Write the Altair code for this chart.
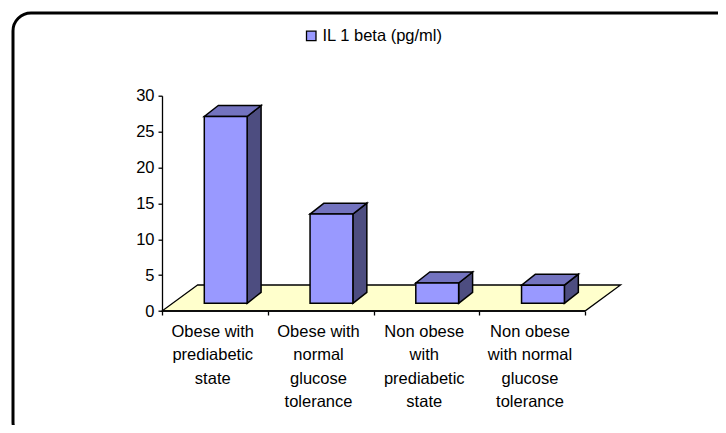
import altair as alt
import pandas as pd

categories = ["Obese with\nprediabetic\nstate", "Obese with\nnormal\nglucose\ntolerance",
              "Non obese\nwith\nprediabetic\nstate", "Non obese\nwith normal\nglucose\ntolerance"]
values = [27.1, 13.5, 3.9, 3.6]
series = "IL 1 beta (pg/ml)"
y_ticks = [0, 5, 10, 15, 20, 25, 30]
x_ticks = [0, 1, 2, 3, 4]

W, H = 459, 215.3
XMAX = W / 105.75
FLOOR_D_X, FLOOR_D_Y = 0.336, 3.62
BAR_L, BAR_W = 0.4, 0.405
BAR_BASE = 1.07
DX, DY = 0.132, 1.53

FONT = "Liberation Sans"
FS = 16.5

x_scale = alt.Scale(domain=[0, XMAX], nice=False, zero=False)
y_scale = alt.Scale(domain=[0, 30], nice=False, zero=False)
X = alt.X("x:Q", scale=x_scale, title=None,
          axis=alt.Axis(values=x_ticks, tickCount=5, labels=False, domain=False, grid=False, tickSize=4,
                        tickColor="black", tickWidth=1.3))
Y = alt.Y("y:Q", scale=y_scale, title=None,
          axis=alt.Axis(values=y_ticks, tickCount=7, labelOverlap=False, grid=False, tickSize=4,
                        tickColor="black", tickWidth=1.3,
                        domainColor="black", domainWidth=1.3, labelColor="black", labelFont=FONT,
                        labelFontSize=FS, labelPadding=4))

# floor (horizontal-edged parallelogram)
floor_df = pd.DataFrame({"y": [0, FLOOR_D_Y], "x": [0, FLOOR_D_X], "x2": [4, 4 + FLOOR_D_X]})
floor = alt.Chart(floor_df).mark_area(orient="horizontal", fill="#FFFFCC", stroke="black",
                                      strokeWidth=1.3).encode(
    y=Y, x=X, x2="x2:Q")

front_rows, top_rows, side_rows = [], [], []
for i, v in enumerate(values):
    l = i + BAR_L
    r = l + BAR_W
    front_rows.append({"x": l, "x2": r, "y": BAR_BASE, "y2": v, "series": series})
    top_rows += [{"b": i, "y": v, "x": l, "x2": r},
                 {"b": i, "y": v + DY, "x": l + DX, "x2": r + DX}]
    side_rows += [{"b": i, "x": r, "y": BAR_BASE, "y2": v},
                  {"b": i, "x": r + DX, "y": BAR_BASE + DY, "y2": v + DY}]

front = alt.Chart(pd.DataFrame(front_rows)).mark_rect(stroke="black", strokeWidth=1.5).encode(
    x=X, x2="x2:Q", y=Y, y2="y2:Q",
    color=alt.Color("series:N", scale=alt.Scale(domain=[series], range=["#9999FF"]),
                    legend=alt.Legend(title=None, orient="none", legendX=141, legendY=-68,
                                      symbolType="square", symbolSize=90, symbolStrokeColor="black",
                                      symbolStrokeWidth=1.3, labelFont=FONT, labelFontSize=FS,
                                      labelColor="black", labelOffset=3)))
top = alt.Chart(pd.DataFrame(top_rows)).mark_area(orient="horizontal", fill="#7373BF", stroke="black",
                                                  strokeWidth=1.5).encode(
    y=Y, x=X, x2="x2:Q", detail="b:N")
side = alt.Chart(pd.DataFrame(side_rows)).mark_area(fill="#4D4D80", stroke="black",
                                                    strokeWidth=1.5).encode(
    x=X, y=Y, y2="y2:Q", detail="b:N")

axis_line = alt.Chart(pd.DataFrame({"x": [0], "x2": [4], "y": [0]})).mark_rule(
    color="black", strokeWidth=1.3).encode(
    x=X, x2="x2:Q", y=Y)

labels_df = pd.DataFrame({"x": [i + 0.48 for i in range(4)], "y": [0] * 4, "t": categories})
labels = alt.Chart(labels_df).mark_text(lineBreak="\n", baseline="top", align="center", dy=13,
                                        lineHeight=23.4, font=FONT, fontSize=FS, color="black").encode(
    x=X, y=Y, text="t:N")

frame = alt.Chart(pd.DataFrame({"a": [0]})).mark_rect(
    fill="transparent", stroke="black", strokeWidth=3, cornerRadius=18).encode(
    x=alt.value(-149), x2=alt.value(573), y=alt.value(-82.7), y2=alt.value(344.3))

chart = alt.layer(floor, axis_line, side, top, front, labels, frame).resolve_scale(
    x="shared", y="shared").properties(
    width=W, height=H, autosize=alt.AutoSizeParams(type="none"),
    padding={"left": 154, "top": 87.7, "right": 97, "bottom": 114},
    background="white").configure_view(stroke=None)

chart.save("out.html", embed_options={"renderer": "svg", "actions": False})
